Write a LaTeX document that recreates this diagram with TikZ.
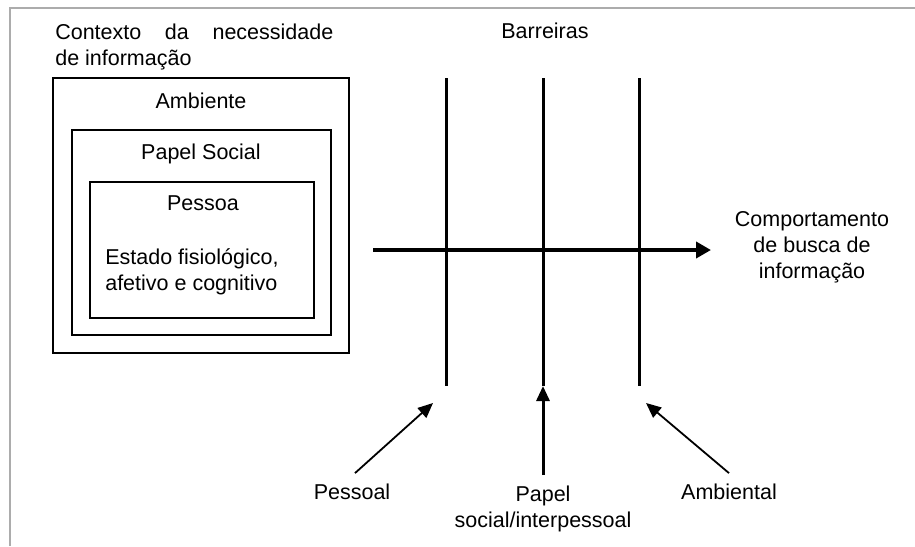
\documentclass[tikz,border=0pt]{standalone}
\usepackage{fontspec}
\setmainfont{Liberation Sans}
\usepackage{tikz}
\usetikzlibrary{arrows.meta, positioning}

\begin{document}
\begin{tikzpicture}[x=1pt, y=-1pt, semithick,
    every node/.style={font=\fontsize{21.5}{26}\selectfont, inner sep=0pt}]
    \tikzstyle{caixa}=[draw, line width=1.5pt, rectangle]
    \tikzstyle{barreira}=[line width=3pt]
    \tikzstyle{fluxo}=[line width=4pt, -{Triangle[length=15pt, width=16pt]}]
    \tikzstyle{fator}=[line width=1.8pt, -{Triangle[length=15pt, width=13pt]}]
    \tikzstyle{rotulo}=[anchor=base, align=center]

    \useasboundingbox (0,0) rectangle (915,546);
    \draw[gray!65, line width=2pt] (10,546) -- (10,8) -- (915,8);

    % contexto (base = last line)
    \node[anchor=base west, align=left] (contexto) at (55,65)
        {\makebox[278pt][s]{Contexto da necessidade}\\de informação};
    \node[caixa, minimum width=296pt, minimum height=275pt] (ambiente) at (201,215.5) {};
    \node[caixa, minimum width=259pt, minimum height=205pt] (papel) at (201.5,232.5) {};
    \node[caixa, minimum width=224pt, minimum height=136pt] (pessoa) at (202,250) {};
    \node[rotulo] at (201,108) {Ambiente};
    \node[rotulo] at (201,159) {Papel Social};
    \node[rotulo] at (203,210) {Pessoa};
    \node[anchor=base west, align=left] (estado) at (105,290)
        {Estado fisiológico,\\afetivo e cognitivo};

    % barreiras
    \node[rotulo] (barreiras) at (545,38) {Barreiras};
    \foreach \n/\x in {1/446, 2/543, 3/639} {
        \coordinate (top\n) at (\x,78);
        \coordinate (bot\n) at (\x,386);
        \draw[barreira] (top\n) -- (bot\n);
    }

    \coordinate (inicio) at (373,250);
    \coordinate (fim) at (711,250);
    \node[rotulo] (comp) at (812,278) {Comportamento\\de busca de\\informação};
    \draw[fluxo] (inicio) -- (fim);

    % fatores
    \node[rotulo] (pessoal) at (352,499) {Pessoal};
    \node[rotulo] (social) at (543,527) {Papel\\social/interpessoal};
    \node[rotulo] (ambiental) at (729,499) {Ambiental};
    \coordinate (alvoP) at (433,403);
    \coordinate (alvoA) at (646,403);

    \draw[fator] ([shift={(3,-10)}]pessoal.north) -- (alvoP);
    \draw[fator, line width=3pt] ([yshift=10pt]social.north) -- (bot2);
    \draw[fator] ([shift={(0,-10)}]ambiental.north) -- (alvoA);

\end{tikzpicture}
\end{document}
